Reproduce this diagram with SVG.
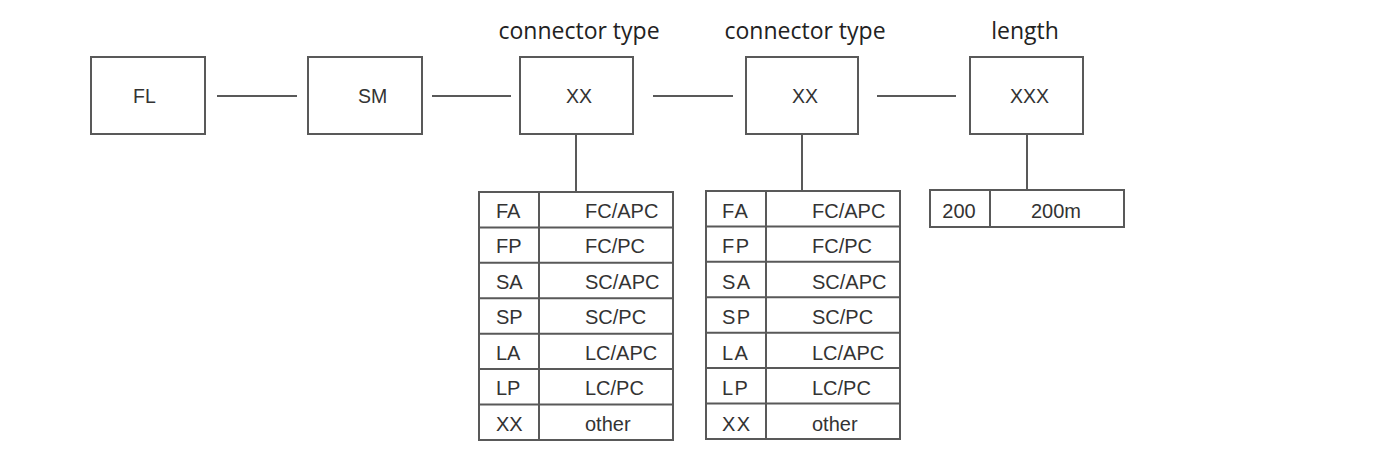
<svg xmlns="http://www.w3.org/2000/svg" width="1379" height="462" viewBox="0 0 1379 462">
<style>
.box{fill:#fff;stroke:#595959;stroke-width:2}
.ln{stroke:#595959;stroke-width:2;fill:none}
.lbl{font-family:"Liberation Sans",Arial,sans-serif;font-size:19.5px;fill:#333}
.tt{font-family:"Liberation Sans",Arial,sans-serif;font-size:20px;fill:#333}
.sp{letter-spacing:1.5px}
.hd{font-family:"Open Sans","Noto Sans",sans-serif;font-size:23px;fill:#222;text-anchor:middle}
</style>
<rect width="1379" height="462" fill="#fff"/>
<g id="connectors">
<line class="ln" x1="217" y1="96" x2="297" y2="96"/>
<line class="ln" x1="432" y1="96" x2="511" y2="96"/>
<line class="ln" x1="653" y1="96" x2="733" y2="96"/>
<line class="ln" x1="877" y1="96" x2="956" y2="96"/>
<line class="ln" x1="576" y1="134" x2="576" y2="192"/>
<line class="ln" x1="802" y1="134" x2="802" y2="191"/>
<line class="ln" x1="1027" y1="134" x2="1027" y2="190"/>
</g>
<g id="node-fl"><rect class="box" x="91" y="57" width="114" height="77"/><text class="lbl" x="133" y="103">FL</text></g>
<g id="node-sm"><rect class="box" x="308" y="57" width="114" height="77"/><text class="lbl" x="358" y="103">SM</text></g>
<g id="node-xx1"><text class="hd" x="579" y="39">connector type</text><rect class="box" x="520" y="57" width="113" height="77"/><text class="lbl" x="566" y="103">XX</text></g>
<g id="node-xx2"><text class="hd" x="805" y="39">connector type</text><rect class="box" x="746" y="57" width="112" height="77"/><text class="lbl" x="792" y="103">XX</text></g>
<g id="node-xxx"><text class="hd" x="1025" y="39">length</text><rect class="box" x="970" y="57" width="113" height="77"/><text class="lbl" x="1010" y="103">XXX</text></g>
<g id="table1">
<rect class="box" x="479" y="192" width="194" height="248"/>
<line class="ln" x1="539" y1="192" x2="539" y2="440"/>
<line class="ln" x1="479" y1="227.4" x2="673" y2="227.4"/>
<line class="ln" x1="479" y1="262.8" x2="673" y2="262.8"/>
<line class="ln" x1="479" y1="298.3" x2="673" y2="298.3"/>
<line class="ln" x1="479" y1="333.7" x2="673" y2="333.7"/>
<line class="ln" x1="479" y1="369.1" x2="673" y2="369.1"/>
<line class="ln" x1="479" y1="404.6" x2="673" y2="404.6"/>
<text class="tt" x="496" y="218">FA</text><text class="tt" x="585" y="218">FC/APC</text>
<text class="tt" x="496" y="253.4">FP</text><text class="tt" x="585" y="253.4">FC/PC</text>
<text class="tt" x="496" y="288.8">SA</text><text class="tt" x="585" y="288.8">SC/APC</text>
<text class="tt" x="496" y="324.3">SP</text><text class="tt" x="585" y="324.3">SC/PC</text>
<text class="tt" x="496" y="359.7">LA</text><text class="tt" x="585" y="359.7">LC/APC</text>
<text class="tt" x="496" y="395.1">LP</text><text class="tt" x="585" y="395.1">LC/PC</text>
<text class="tt" x="496" y="430.6">XX</text><text class="tt" x="585" y="430.6">other</text>
</g>
<g id="table2">
<rect class="box" x="706" y="191" width="194" height="248"/>
<line class="ln" x1="766" y1="191" x2="766" y2="439"/>
<line class="ln" x1="706" y1="226.4" x2="900" y2="226.4"/>
<line class="ln" x1="706" y1="261.8" x2="900" y2="261.8"/>
<line class="ln" x1="706" y1="297.3" x2="900" y2="297.3"/>
<line class="ln" x1="706" y1="332.7" x2="900" y2="332.7"/>
<line class="ln" x1="706" y1="368.1" x2="900" y2="368.1"/>
<line class="ln" x1="706" y1="403.6" x2="900" y2="403.6"/>
<text class="tt sp" x="722" y="218">FA</text><text class="tt" x="812" y="218">FC/APC</text>
<text class="tt sp" x="722" y="253.4">FP</text><text class="tt" x="812" y="253.4">FC/PC</text>
<text class="tt sp" x="722" y="288.8">SA</text><text class="tt" x="812" y="288.8">SC/APC</text>
<text class="tt sp" x="722" y="324.3">SP</text><text class="tt" x="812" y="324.3">SC/PC</text>
<text class="tt sp" x="722" y="359.7">LA</text><text class="tt" x="812" y="359.7">LC/APC</text>
<text class="tt sp" x="722" y="395.1">LP</text><text class="tt" x="812" y="395.1">LC/PC</text>
<text class="tt sp" x="722" y="430.6">XX</text><text class="tt" x="812" y="430.6">other</text>
</g>
<g id="table3">
<rect class="box" x="930" y="190" width="194" height="37"/>
<line class="ln" x1="990" y1="190" x2="990" y2="227"/>
<text class="tt" x="959" y="218" text-anchor="middle">200</text>
<text class="tt" x="1056" y="218" text-anchor="middle">200m</text>
</g>
</svg>
